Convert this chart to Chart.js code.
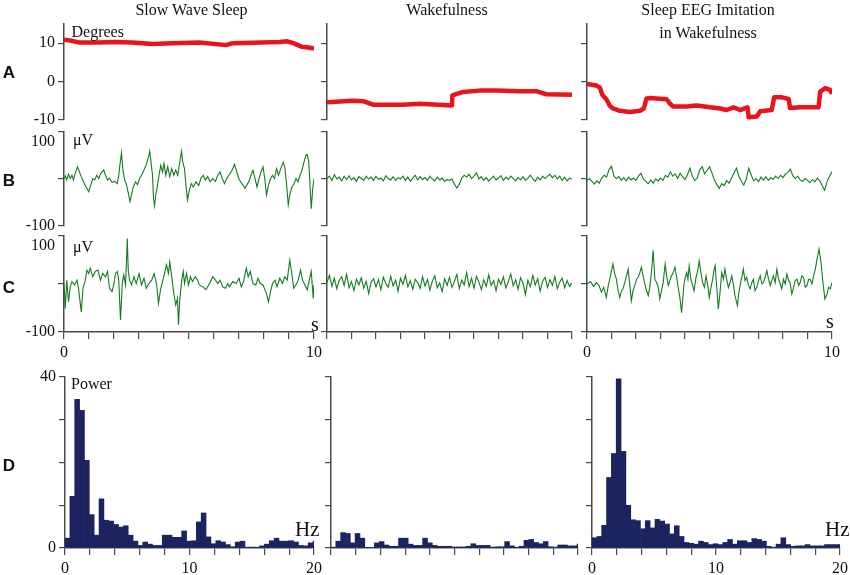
<!DOCTYPE html>
<html>
<head>
<meta charset="utf-8">
<script src="https://cdn.jsdelivr.net/npm/chart.js@4.4.1/dist/chart.umd.min.js"></script>
<style>
  body { margin: 0; background: #fff; width: 850px; height: 575px; position: relative; overflow: hidden; }
  canvas { position: absolute; }
  .t { position: absolute; white-space: nowrap; line-height: 1; color: #111; }
</style>
</head>
<body>
<script>
// ---- data ----

// A: head position in degrees, [time s, value]
const headSws = [[0,10.9],[0.25,10.7],[0.58,10.2],[1.39,10.2],[2.06,10.3],[2.73,10.2],[3.53,9.8],[4.34,10.0],[5.41,10.2],[6.49,9.5],[6.75,10.0],[7.56,10.1],[8.63,10.3],[8.93,10.5],[9.17,10.0],[9.5,9.1],[9.77,8.9],[10,8.6]];
const headWake = [[0,-5.4],[1.06,-5.0],[1.47,-5.1],[1.88,-6.0],[3.1,-6.0],[3.78,-5.8],[5.1,-6.2],[5.12,-3.6],[5.55,-2.7],[6.23,-2.35],[6.91,-2.35],[7.86,-2.5],[8.54,-2.5],[8.95,-3.3],[10,-3.4]];
const headImit = [[0,-0.6],[0.38,-1.0],[0.52,-1.5],[0.63,-3.5],[0.79,-4.6],[0.93,-6.3],[1.06,-7.0],[1.34,-7.6],[1.75,-7.9],[2.16,-7.6],[2.32,-7.0],[2.43,-4.4],[2.56,-4.3],[3.25,-4.6],[3.38,-5.7],[3.52,-6.5],[4.07,-6.5],[4.47,-6.2],[5.02,-6.7],[5.43,-7.0],[5.7,-7.4],[5.98,-6.7],[6.25,-7.4],[6.55,-6.7],[6.6,-9.3],[6.93,-9.1],[7.07,-7.7],[7.54,-7.4],[7.64,-4.1],[7.95,-4.1],[8.23,-4.5],[8.29,-6.9],[8.7,-6.7],[9.45,-6.7],[9.52,-2.6],[9.73,-1.7],[9.93,-2.2],[10,-3.2]];

// B: first EEG channel, µV
const eegSwsB = [[0,1],[0.05,7],[0.11,-2],[0.18,10],[0.25,1],[0.32,8],[0.38,-2],[0.45,12],[0.54,26],[0.62,15],
  [0.69,5],[0.78,-6],[0.88,-17],[0.99,-27],[1.07,-13],[1.15,1],[1.23,-2],[1.31,8],[1.39,1],[1.47,12],
  [1.59,19],[1.66,8],[1.74,-2],[1.82,2],[1.92,-7],[2.03,-5],[2.13,-10],[2.19,8],[2.25,36],[2.30,56],
  [2.35,22],[2.42,-2],[2.49,-10],[2.56,-27],[2.64,-48],[2.70,-34],[2.77,-17],[2.86,-6],[2.94,-12],[3.02,1],
  [3.10,8],[3.20,19],[3.28,29],[3.36,43],[3.43,59],[3.48,36],[3.54,8],[3.58,-41],[3.62,-57],[3.67,-34],
  [3.74,-13],[3.80,8],[3.87,29],[3.94,15],[4.00,33],[4.07,8],[4.15,26],[4.23,5],[4.31,22],[4.39,8],
  [4.47,19],[4.55,8],[4.62,33],[4.70,59],[4.75,36],[4.82,22],[4.89,-20],[4.94,-45],[5.01,-24],[5.09,-10],
  [5.17,-17],[5.28,-6],[5.39,-14],[5.48,2],[5.57,8],[5.65,-2],[5.75,5],[5.84,-6],[5.95,1],[6.06,-5],
  [6.15,8],[6.24,15],[6.33,1],[6.42,-10],[6.51,1],[6.62,10],[6.73,19],[6.82,31],[6.91,15],[6.99,1],
  [7.07,-7],[7.15,-12],[7.24,-20],[7.32,-12],[7.39,-6],[7.48,8],[7.56,19],[7.64,1],[7.72,-17],[7.80,1],
  [7.88,15],[7.96,26],[8.03,1],[8.10,-34],[8.18,-13],[8.26,1],[8.34,8],[8.42,1],[8.50,22],[8.58,8],
  [8.67,22],[8.77,36],[8.83,26],[8.90,-10],[8.97,-55],[9.04,-31],[9.12,-17],[9.20,-10],[9.28,1],[9.36,-6],
  [9.44,8],[9.52,19],[9.60,36],[9.68,51],[9.73,52],[9.79,36],[9.84,-13],[9.89,-63],[9.95,-20],[10,1]];
// evenly sampled over 0..10 s
const eegWakeB = [1,6,-3,9,0,4,-4,6,-1,7, -2,3,-5,5,1,-3,6,0,4,-3, 6,-1,2,-4,7,1,-2,5,-3,3,
  0,6,-3,4,-5,2,8,-2,5,-1, 3,-3,6,0,-4,4,-2,2,-5,-1, -3,0,-11,-19,-11,2,8,4,10,1,
  6,13,0,5,-3,3,-4,1,6,-2, 2,7,-3,4,-1,6,1,-4,3,-2, 5,-3,2,8,0,-5,4,-2,6,1,
  6,10,3,8,0,6,-3,4,-4,2, 0];
const eegImitB = [-3,1,-5,-11,-4,-9,2,8,4,20, 27,6,1,5,-3,3,-4,4,-2,2, -3,6,12,0,-5,-10,-2,-9,0,-4,
  2,-3,8,4,15,6,11,1,12,5, -1,9,23,6,-3,2,19,26,11,18, 26,13,-2,-12,-20,-10,-14,-3,-9,2,
  13,23,6,-5,-13,0,23,9,-4,1, -6,4,-3,5,-3,3,-1,6,1,8, 3,11,14,21,7,1,6,-2,-5,1,
  -3,-8,-1,-6,2,-4,-14,-24,-5,6, 16];

// C: second EEG channel, µV
const eegSwsC = [[0,1],[0.05,-51],[0.11,8],[0.18,-37],[0.25,-6],[0.32,5],[0.42,-2],[0.52,8],[0.58,-9],[0.69,-58],
  [0.76,-9],[0.85,8],[0.92,29],[0.99,22],[1.05,33],[1.15,15],[1.25,26],[1.36,29],[1.46,8],[1.55,22],
  [1.66,15],[1.74,26],[1.82,-9],[1.92,-16],[1.99,-2],[2.06,22],[2.13,26],[2.19,8],[2.26,-75],[2.33,1],
  [2.39,19],[2.46,-2],[2.50,46],[2.53,95],[2.57,29],[2.62,8],[2.70,-2],[2.80,15],[2.89,1],[3.00,22],
  [3.10,-2],[3.20,12],[3.29,-9],[3.40,1],[3.51,8],[3.60,22],[3.70,1],[3.78,-40],[3.86,-12],[3.94,5],
  [4.02,22],[4.10,40],[4.18,22],[4.23,46],[4.31,15],[4.39,-19],[4.47,-44],[4.54,-30],[4.58,-85],[4.63,-33],
  [4.71,8],[4.77,26],[4.82,1],[4.90,22],[4.98,-2],[5.06,15],[5.14,5],[5.25,15],[5.35,8],[5.41,-2],
  [5.55,-6],[5.68,-12],[5.82,1],[5.95,15],[6.06,8],[6.15,1],[6.24,8],[6.35,-6],[6.46,-9],[6.55,1],
  [6.62,-6],[6.75,5],[6.89,1],[7.00,12],[7.09,-6],[7.18,5],[7.29,33],[7.37,15],[7.45,26],[7.56,1],
  [7.67,-2],[7.76,12],[7.85,1],[7.96,-2],[8.09,-19],[8.18,-37],[8.26,-16],[8.34,1],[8.44,8],[8.52,-6],
  [8.63,12],[8.74,1],[8.83,15],[8.93,8],[9.03,50],[9.11,22],[9.19,-9],[9.27,-2],[9.37,8],[9.46,29],
  [9.54,8],[9.64,-2],[9.73,-12],[9.81,8],[9.89,26],[9.97,-30],[10,-2]];
const eegWakeC = [3,18,-5,12,-10,8,15,-3,20,-8, 5,-14,10,-2,13,-9,6,-20,4,11, -6,9,-12,14,1,-7,16,-4,8,-15,
  12,-1,18,-6,7,-11,10,3,-9,15, -4,9,-13,6,17,-8,2,-16,11,-3, 14,-7,5,20,-10,8,-2,24,-6,12,
  -9,16,4,-12,9,-5,19,-3,7,-14, 10,-1,15,-8,5,21,-4,9,-11,13, 2,-22,8,-6,18,-2,11,-15,6,14,
  -7,9,-3,16,-10,4,12,-8,7,-5, 2];
const eegImitC = [[0,0],[0.14,5],[0.27,-5],[0.38,3],[0.49,-3],[0.59,-17],[0.68,-7],[0.79,-28],[0.87,-3],[0.93,10],
  [1.00,28],[1.06,42],[1.13,21],[1.20,10],[1.27,-14],[1.34,-28],[1.41,-14],[1.47,-10],[1.58,10],[1.68,31],
  [1.75,-3],[1.81,-35],[1.88,-14],[1.95,-3],[2.02,10],[2.09,14],[2.16,24],[2.22,35],[2.29,17],[2.36,0],
  [2.43,-14],[2.50,-24],[2.56,-7],[2.63,24],[2.70,70],[2.77,10],[2.84,3],[2.91,-7],[2.97,-31],[3.04,-14],
  [3.11,3],[3.19,42],[3.25,17],[3.32,-3],[3.38,7],[3.45,17],[3.52,24],[3.59,35],[3.66,14],[3.72,-7],
  [3.79,-28],[3.86,-60],[3.92,-24],[3.96,0],[4.01,14],[4.07,24],[4.12,10],[4.17,38],[4.24,10],[4.31,-3],
  [4.37,-14],[4.45,14],[4.52,28],[4.58,48],[4.65,24],[4.72,3],[4.79,-7],[4.86,17],[4.93,-3],[4.99,-28],
  [5.06,-7],[5.13,10],[5.18,28],[5.23,38],[5.29,-3],[5.36,-52],[5.43,-17],[5.50,24],[5.57,10],[5.63,31],
  [5.70,10],[5.77,-7],[5.84,3],[5.91,17],[5.98,-3],[6.04,-24],[6.14,-45],[6.20,-17],[6.27,3],[6.33,17],
  [6.38,31],[6.45,7],[6.52,14],[6.59,-3],[6.66,-10],[6.73,3],[6.79,10],[6.86,-14],[6.93,-7],[7.00,7],
  [7.07,17],[7.14,0],[7.20,3],[7.27,14],[7.34,28],[7.41,10],[7.48,-3],[7.54,7],[7.61,17],[7.68,3],
  [7.75,31],[7.82,10],[7.89,0],[7.95,-10],[8.02,10],[8.09,0],[8.16,21],[8.23,7],[8.29,3],[8.36,-21],
  [8.43,-7],[8.50,7],[8.57,10],[8.64,-3],[8.70,3],[8.77,17],[8.84,14],[8.91,-7],[8.98,-3],[9.05,10],
  [9.11,10],[9.18,0],[9.25,17],[9.32,31],[9.39,52],[9.47,73],[9.55,45],[9.63,3],[9.71,-31],[9.80,-21],
  [9.86,-7],[9.93,-10],[10,3]];

// D: power spectra, one value per 0.39 Hz bin starting at 0 Hz
const BIN_HZ = 0.390625;
const powerSws = [2.3,12.1,34.8,32.2,20.5,7.8,3.0,11.5,6.5,6.3, 5.5,4.9,5.2,3.0,1.6,0.6,1.4,0.9,0.6,0.6,
  3.0,3.0,2.5,2.5,4.0,1.6,1.7,6.1,8.2,2.6, 1.0,1.7,1.4,0.8,0.3,1.4,1.6,0.2,0.2,0.2,
  0.5,0.9,1.7,2.3,1.6,1.6,1.7,1.4,0.6,0.5, 1.2,1.6];
const powerWake = [0.2,1.6,3.6,3.4,1.2,3.4,2.3,0.15,0.15,1.2, 1.5,0.7,0.4,0.4,2.3,2.3,0.9,0.6,0.6,2.3,
  1.2,0.6,0.4,0.4,0.4,0.25,0.25,0.25,0.4,1.0, 0.6,0.6,0.6,0.2,0.3,0.3,1.5,0.5,0.2,0.4,
  1.8,2.0,1.3,1.0,1.5,0.3,0.2,0.7,0.7,0.5, 0.5,0.9];
const powerImit = [2.4,2.7,5.3,16.5,22.1,39.6,22.6,10.0,6.6,6.4, 4.5,6.4,4.7,6.7,6.3,5.6,3.3,5.2,2.7,1.3,
  1.1,0.9,1.6,1.3,0.8,1.0,0.8,1.3,2.0,0.9, 1.7,1.7,1.3,2.2,2.0,1.6,0.4,0.2,0.9,2.4,
  0.8,0.4,0.5,0.5,0.8,0.5,0.5,0.5,0.8,0.8, 0.8,0.8];

const timeTicks = [0,1,2,3,4,5,6,7,8,9,10];
const freqTicks = [0,2,4,6,8,10,12,14,16,18,20];

// ---- layout (page pixels of each plot area) ----
const ROW_A = [24, 120], ROW_B = [132, 226], ROW_C = [236, 332], ROW_D = [377, 548];
const COLS = [[64, 314], [327, 572], [587, 832]];
const COLS_D = [[65, 314], [331, 578], [592, 840]];

const AXIS = '#4a4a4a';
const INK = '#111';
const RED = '#e8131d';
const GREEN = '#167a24';
const NAVY = '#1c245f';
const SERIF = "'Liberation Serif', 'Times New Roman', serif";
const SANS = "'Liberation Sans', Arial, sans-serif";

function pairs(list) {
    return list.map(p => ({ x: p[0], y: p[1] }));
}

function evenly(values) {
    return values.map((v, i) => ({ x: i * 10 / (values.length - 1), y: v }));
}

function makePanel(p) {
    const [l, r] = p.cols;
    const [t, b] = p.rows;
    const padL = 60, padT = 25, padR = 20, padB = 40, xH = 35;
    const c = document.createElement('canvas');
    c.width = r - l + padL + padR;
    c.height = b - t + padT + padB;
    c.style.left = (l - padL) + 'px';
    c.style.top = (t - padT) + 'px';
    document.body.appendChild(c);

    const xTicks = p.xTicks || [];
    const xLabels = p.xLabels || [];

    return new Chart(c, {
        type: p.type,
        data: { datasets: p.datasets },
        options: {
            responsive: false,
            animation: false,
            events: [],
            // the x box always takes xH, shown or not
            layout: { padding: { left: 0, top: padT, right: padR, bottom: padB - xH } },
            plugins: { legend: { display: false }, tooltip: { enabled: false } },
            scales: {
                x: {
                    type: 'linear', min: 0, max: p.xMax, offset: false, display: !!p.showX,
                    afterBuildTicks: s => { s.ticks = xTicks.map(v => ({ value: v })); },
                    afterFit: s => { s.height = xH; },
                    grid: { offset: false, drawOnChartArea: false, tickLength: 7, color: AXIS, lineWidth: 1.2 },
                    border: { display: true, color: AXIS, width: 1.5 },
                    ticks: {
                        autoSkip: false, maxRotation: 0, padding: 4, color: INK,
                        font: { family: SERIF, size: 16 },
                        callback: v => (xLabels.includes(v) ? String(v) : '')
                    }
                },
                y: {
                    type: 'linear', min: p.yMin, max: p.yMax,
                    afterBuildTicks: s => { s.ticks = p.yTicks.map(v => ({ value: v })); },
                    afterFit: s => { s.width = padL; },
                    grid: { drawOnChartArea: false, tickLength: 6, color: AXIS, lineWidth: 1.2 },
                    border: { display: true, color: AXIS, width: 1.5 },
                    ticks: {
                        autoSkip: false, padding: 3, color: INK,
                        font: { family: SERIF, size: 16 },
                        callback: p.yLabel || (() => '')
                    }
                }
            }
        }
    });
}

function redLine(data) {
    return { data: pairs(data), borderColor: RED, borderWidth: 4.5, pointRadius: 0, tension: 0,
             borderJoinStyle: 'round', fill: false };
}

function greenLine(points) {
    return { data: points, borderColor: GREEN, borderWidth: 1.1, pointRadius: 0, tension: 0, fill: false };
}

function bars(values) {
    return { data: values.map((v, i) => ({ x: (i + 0.5) * BIN_HZ, y: v })), backgroundColor: NAVY,
             borderWidth: 0, barPercentage: 1, categoryPercentage: 1, clip: 0 };
}

const headLabel = v => (v === 10 ? '10' : v === 0 ? '0' : v === -10 ? '-10' : '');
const uvLabel = v => (v === 100 ? ['', '100'] : v === -100 ? '-100' : '');
const powerLabel = v => (v === 40 ? '40' : v === 0 ? '0' : '');

// row A
[headSws, headWake, headImit].forEach((d, i) => makePanel({
    type: 'line', cols: COLS[i], rows: ROW_A, datasets: [redLine(d)],
    xMax: 10, yMin: -10, yMax: 15, yTicks: [10, 0, -10], yLabel: i === 0 ? headLabel : null
}));

// row B
[pairs(eegSwsB), evenly(eegWakeB), evenly(eegImitB)].forEach((d, i) => makePanel({
    type: 'line', cols: COLS[i], rows: ROW_B, datasets: [greenLine(d)],
    xMax: 10, yMin: -100, yMax: 100, yTicks: [100, 0, -100], yLabel: i === 0 ? uvLabel : null
}));

// row C, carries the time axis
[pairs(eegSwsC), evenly(eegWakeC), pairs(eegImitC)].forEach((d, i) => makePanel({
    type: 'line', cols: COLS[i], rows: ROW_C, datasets: [greenLine(d)],
    xMax: 10, showX: true, xTicks: timeTicks, xLabels: i === 1 ? [] : [0, 10],
    yMin: -100, yMax: 100, yTicks: [100, 0, -100], yLabel: i === 0 ? uvLabel : null
}));

// row D
[powerSws, powerWake, powerImit].forEach((d, i) => makePanel({
    type: 'bar', cols: COLS_D[i], rows: ROW_D, datasets: [bars(d)],
    xMax: 20, showX: true, xTicks: freqTicks, xLabels: i === 1 ? [] : [0, 10, 20],
    yMin: 0, yMax: 40, yTicks: [0, 10, 20, 30, 40], yLabel: i === 0 ? powerLabel : null
}));

// ---- text ----
function text(str, x, y, size, opt) {
    opt = opt || {};
    const d = document.createElement('div');
    d.className = 't';
    d.textContent = str;
    d.style.left = x + 'px';
    d.style.top = y + 'px';
    d.style.fontSize = size + 'px';
    d.style.fontFamily = opt.sans ? SANS : SERIF;
    if (opt.bold) d.style.fontWeight = 'bold';
    d.style.transform = opt.left ? 'translate(0,-50%)' : 'translate(-50%,-50%)';
    document.body.appendChild(d);
}

text('Slow Wave Sleep', 191.5, 10, 16);
text('Wakefulness', 447, 10, 16);
text('Sleep EEG Imitation', 708, 10, 16);
text('in Wakefulness', 708, 33, 16);

text('A', 9, 72, 17, { sans: true, bold: true });
text('B', 9, 180, 17, { sans: true, bold: true });
text('C', 9, 287, 17, { sans: true, bold: true });
text('D', 9, 465, 17, { sans: true, bold: true });

text('Degrees', 71.5, 31.5, 16, { left: true });
text('\u03bcV', 73, 140, 16, { left: true });
text('\u03bcV', 73, 246.5, 16, { left: true });
text('Power', 71, 384, 16, { left: true });
text('s', 311, 324, 20, { left: true });
text('s', 826, 321, 20, { left: true });
text('Hz', 295, 529, 21, { left: true });
text('Hz', 825, 529, 21, { left: true });
</script>
</body>
</html>
